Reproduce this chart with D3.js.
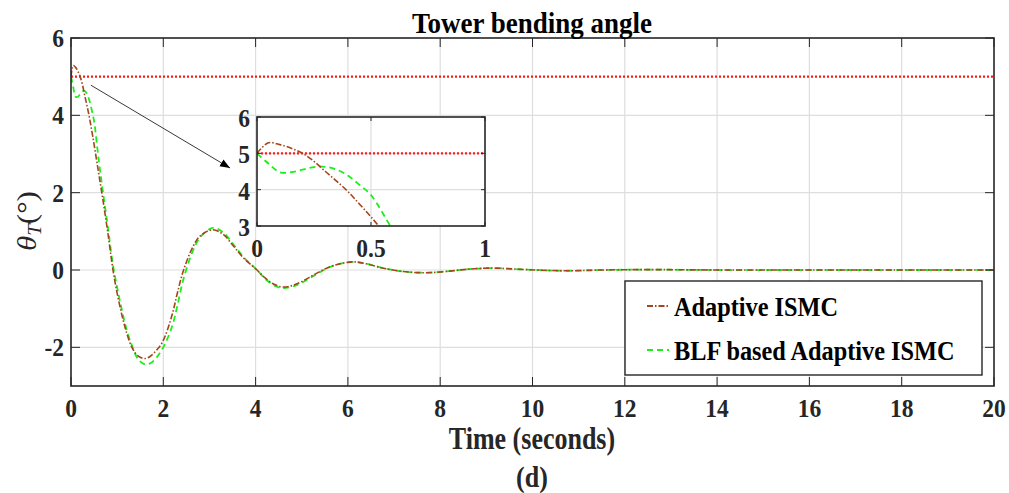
<!DOCTYPE html>
<html>
<head>
<meta charset="utf-8">
<script src="https://cdn.jsdelivr.net/npm/d3@7"></script>
<style>
  body { margin: 0; background: #fff; }
  svg text { font-family: "Liberation Serif", "Times New Roman", serif; }
</style>
</head>
<body>
<svg id="chart" width="1009" height="493"></svg>
<script>
// time samples (seconds)
const timeVals = [0, 0.05, 0.1, 0.15, 0.2, 0.25, 0.3, 0.35, 0.4, 0.45, 0.5, 0.6, 0.7, 0.8, 0.91,
  1.0, 1.1, 1.2, 1.32, 1.45, 1.6, 1.72, 1.85, 1.95, 2.05, 2.2, 2.3, 2.44, 2.65, 2.8, 3.07,
  3.3, 3.52, 3.74, 4.03, 4.2, 4.4, 4.58, 4.8, 5.0, 5.3, 5.6, 5.9, 6.15, 6.4, 6.8, 7.2, 7.7,
  8.2, 8.6, 9.1, 9.7, 10.3, 10.8, 11.5, 12.5, 14, 16, 18, 20];

// Adaptive ISMC
const adaptiveVals = [5.0, 5.29, 5.24, 5.14, 5.0, 4.78, 4.5, 4.23, 3.94, 3.6, 3.25, 2.5, 1.75, 0.95, 0.0,
  -0.6, -1.15, -1.6, -2.0, -2.22, -2.29, -2.23, -2.08, -1.93, -1.68, -1.12, -0.62, 0.0, 0.62, 0.88, 1.04,
  0.92, 0.62, 0.31, 0.0, -0.2, -0.37, -0.44, -0.4, -0.3, -0.1, 0.08, 0.18, 0.21, 0.16, 0.04, -0.04, -0.07,
  -0.03, 0.02, 0.05, 0.02, -0.01, -0.02, 0, 0.01, 0, 0, 0, 0];

// BLF based Adaptive ISMC
const blfVals = [5.0, 4.72, 4.48, 4.48, 4.55, 4.62, 4.63, 4.55, 4.38, 4.13, 3.85, 2.85, 1.95, 1.1, 0.12,
  -0.45, -1.02, -1.52, -1.95, -2.3, -2.44, -2.41, -2.27, -2.1, -1.88, -1.42, -0.95, -0.22, 0.52, 0.85, 1.09,
  0.97, 0.66, 0.33, 0.0, -0.22, -0.4, -0.47, -0.43, -0.33, -0.12, 0.07, 0.18, 0.21, 0.16, 0.04, -0.04, -0.07,
  -0.03, 0.02, 0.05, 0.02, -0.01, -0.02, 0, 0.01, 0, 0, 0, 0];

const refLevel = 5;

const xTicks = [0, 2, 4, 6, 8, 10, 12, 14, 16, 18, 20];
const yTicks = [-2, 0, 2, 4, 6];
const insetXTicks = [0, 0.5, 1];
const insetYTicks = [3, 4, 5, 6];

const seriesNames = ["Adaptive ISMC", "BLF based Adaptive ISMC"];
const seriesColors = ["#a3461c", "#19f019"];
const seriesDash = ["6,2,1.5,2", "6,4"];

const svg = d3.select("#chart");
const ink = "#262626";

// text helper: the source picture is stretched a bit vertically
function addText(parent, x, y, str, o) {
  return parent.append("text")
    .attr("transform", `translate(${x},${y}) scale(1,${o.sy || 1})`)
    .attr("text-anchor", o.anchor || "middle")
    .attr("font-weight", o.weight || "bold")
    .attr("font-size", o.fs)
    .attr("fill", o.fill || ink)
    .text(str);
}

// main axes box
const L = 71, R = 994, T = 38, B = 386;
const x = d3.scaleLinear().domain([0, 20]).range([L, R]);
const y = d3.scaleLinear().domain([-3, 6]).range([B, T]);

const adaptiveData = timeVals.map((t, i) => [t, adaptiveVals[i]]);
const blfData = timeVals.map((t, i) => [t, blfVals[i]]);
const allSeries = [adaptiveData, blfData];

function drawPanel(g, xs, ys, xt, yt, opts) {
  const [x0, x1] = xs.range();
  const [y0, y1] = ys.range(); // y0 bottom, y1 top
  g.append("rect").attr("x", x0).attr("y", y1).attr("width", x1 - x0).attr("height", y0 - y1)
    .attr("fill", "#fff");
  // grid
  g.append("g").selectAll("line").data(xt.filter(v => xs(v) > x0 + 1 && xs(v) < x1 - 1)).join("line")
    .attr("x1", d => xs(d)).attr("x2", d => xs(d)).attr("y1", y1).attr("y2", y0)
    .attr("stroke", "#dedede").attr("stroke-width", 1.2);
  g.append("g").selectAll("line").data(yt.filter(v => ys(v) < y0 - 1 && ys(v) > y1 + 1)).join("line")
    .attr("y1", d => ys(d)).attr("y2", d => ys(d)).attr("x1", x0).attr("x2", x1)
    .attr("stroke", "#dedede").attr("stroke-width", 1.2);

  const clipId = opts.clipId;
  g.append("clipPath").attr("id", clipId).append("rect")
    .attr("x", x0).attr("y", y1).attr("width", x1 - x0).attr("height", y0 - y1);
  const plot = g.append("g").attr("clip-path", `url(#${clipId})`);

  // reference line
  plot.append("line").attr("x1", x0).attr("x2", x1).attr("y1", ys(refLevel)).attr("y2", ys(refLevel))
    .attr("stroke", "#ff1a1a").attr("stroke-width", 2.2).attr("stroke-dasharray", "2,2");

  const line = d3.line().x(d => xs(d[0])).y(d => ys(d[1])).curve(d3.curveCatmullRom.alpha(0.5));
  // green first, brown on top
  [1, 0].forEach(i => {
    plot.append("path").datum(allSeries[i]).attr("d", line)
      .attr("fill", "none").attr("stroke", seriesColors[i])
      .attr("stroke-width", i === 1 ? 1.8 : 1.6)
      .attr("stroke-dasharray", seriesDash[i]);
  });

  // ticks on all four sides
  const tl = opts.tickLen;
  const tk = g.append("g").attr("stroke", ink).attr("stroke-width", 1);
  xt.forEach(v => {
    tk.append("line").attr("x1", xs(v)).attr("x2", xs(v)).attr("y1", y0).attr("y2", y0 - tl);
    tk.append("line").attr("x1", xs(v)).attr("x2", xs(v)).attr("y1", y1).attr("y2", y1 + tl);
  });
  yt.forEach(v => {
    tk.append("line").attr("y1", ys(v)).attr("y2", ys(v)).attr("x1", x0).attr("x2", x0 + tl);
    tk.append("line").attr("y1", ys(v)).attr("y2", ys(v)).attr("x1", x1).attr("x2", x1 - tl);
  });
  g.append("rect").attr("x", x0).attr("y", y1).attr("width", x1 - x0).attr("height", y0 - y1)
    .attr("fill", "none").attr("stroke", ink).attr("stroke-width", 1.6);

  // tick labels
  const lab = g.append("g");
  xt.forEach(v => addText(lab, xs(v), y0 + opts.xLabelDy, v, { fs: opts.fs, sy: 1.1 }));
  yt.forEach(v => addText(lab, x0 - opts.yLabelDx, ys(v) + opts.yLabelDy, v,
    { fs: opts.fs, sy: 1.1, anchor: "end" }));
}

drawPanel(svg.append("g"), x, y, xTicks, yTicks,
  { clipId: "clipMain", tickLen: 9, fs: 23.5, xLabelDy: 31, yLabelDx: 7, yLabelDy: 9 });

// title and axis labels
addText(svg, 532, 33, "Tower bending angle", { fs: 27, sy: 1.1, fill: "#000" });
addText(svg, 532, 449, "Time (seconds)", { fs: 26, sy: 1.2 });
addText(svg, 532, 487, "(d)", { fs: 26, sy: 1.1 });

const yl = svg.append("text").attr("transform", "translate(36,221) rotate(-90) scale(1.15,1)")
  .attr("text-anchor", "middle").attr("font-size", 27).attr("fill", ink);
yl.append("tspan").attr("font-style", "italic").text("θ");
yl.append("tspan").attr("font-style", "italic").attr("font-size", 18).attr("dy", 5).text("T");
yl.append("tspan").attr("dy", -5).text("(°)");

// arrow from main curve to inset
svg.append("defs").append("marker").attr("id", "arrow").attr("viewBox", "0 0 10 10")
  .attr("refX", 10).attr("refY", 5).attr("markerWidth", 10).attr("markerHeight", 10)
  .attr("orient", "auto").attr("markerUnits", "userSpaceOnUse")
  .append("path").attr("d", "M0,1 L10,5 L0,9 z").attr("fill", "#000");
svg.append("line").attr("x1", x(0.43)).attr("y1", y(4.78)).attr("x2", 230).attr("y2", 168)
  .attr("stroke", "#222").attr("stroke-width", 0.9).attr("marker-end", "url(#arrow)");

// inset
const xi = d3.scaleLinear().domain([0, 1]).range([257, 485]);
const yi = d3.scaleLinear().domain([3, 6]).range([226, 117]);
drawPanel(svg.append("g"), xi, yi, insetXTicks, insetYTicks,
  { clipId: "clipInset", tickLen: 4, fs: 23.5, xLabelDy: 31, yLabelDx: 7, yLabelDy: 10 });

// legend
const lg = svg.append("g");
lg.append("rect").attr("x", 625).attr("y", 281).attr("width", 357).attr("height", 94)
  .attr("fill", "#fff").attr("stroke", ink).attr("stroke-width", 1.4);
seriesNames.forEach((name, i) => {
  const base = 316 + i * 44;
  lg.append("line").attr("x1", 647).attr("x2", 669).attr("y1", base - 10).attr("y2", base - 10)
    .attr("stroke", seriesColors[i]).attr("stroke-width", 1.8).attr("stroke-dasharray", seriesDash[i]);
  addText(lg, 674, base, name, { fs: 24.3, sy: 1.08, anchor: "start", fill: "#000" });
});
</script>
</body>
</html>
